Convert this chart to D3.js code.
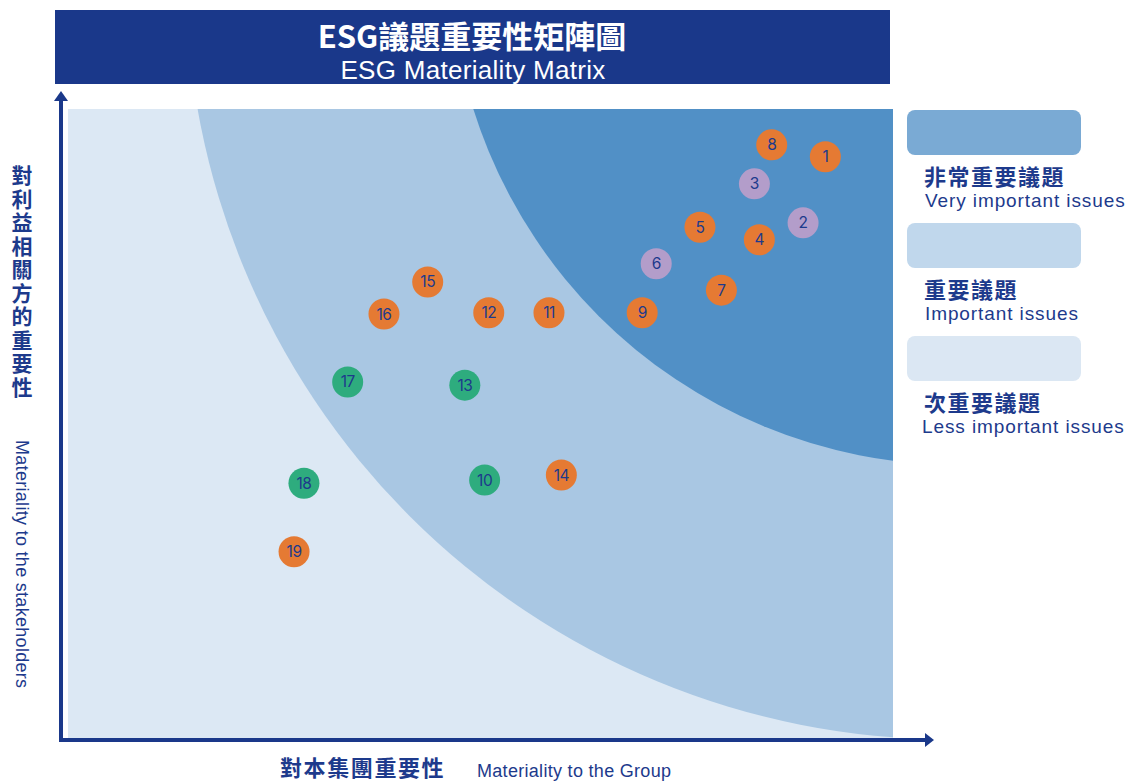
<!DOCTYPE html>
<html lang="zh-Hant">
<head>
<meta charset="UTF-8">
<title>ESG議題重要性矩陣圖</title>
<script src="https://d3js.org/d3.v7.min.js"></script>
<style>
  body { margin: 0; background: #fff; }
  svg { display: block; }
  text { font-family: "Liberation Sans", Arial, "Noto Sans CJK TC", sans-serif; fill: #1d3a8c; }
  .cjk { font-family: "Noto Sans CJK TC", sans-serif; font-weight: 700; }
</style>
</head>
<body>
<svg width="1132" height="782"></svg>
<script>
// === 議題資料 ===
const issueIds = [1, 2, 3, 4, 5, 6, 7, 8, 9, 10, 11, 12, 13, 14, 15, 16, 17, 18, 19];
const groupScore = [9.18, 8.91, 8.32, 8.38, 7.66, 7.13, 7.92, 8.53, 6.96, 5.05, 5.83, 5.10, 4.81, 5.98, 4.36, 3.83, 3.39, 2.86, 2.74];
const stakeScore = [9.24, 8.19, 8.81, 7.92, 8.12, 7.54, 7.12, 9.43, 6.76, 4.10, 6.76, 6.76, 5.61, 4.18, 7.25, 6.74, 5.66, 4.05, 2.96];
const issueType  = ["o", "p", "p", "o", "o", "p", "o", "o", "o", "g", "o", "o", "g", "o", "o", "o", "g", "g", "o"];

const typeColor = { o: "#e57a33", p: "#b39dca", g: "#2eac7e" };

// 區域 (圓心與半徑, 資料單位)
const zones = [
  { cx: 10.68, cy: 12.11, r: 9.25, color: "#a9c7e3" },
  { cx: 10.79, cy: 12.42, r: 6.16, color: "#5190c6" }
];

const legendZh = ["非常重要議題", "重要議題", "次重要議題"];
const legendEn = ["Very important issues", "Important issues", "Less important issues"];
const legendColor = ["#7aaad4", "#c0d7ec", "#dbe7f3"];

// === 繪圖 ===
const svg = d3.select("svg");
const navy = "#1a388a";

const x = d3.scaleLinear().domain([0, 10]).range([68, 893]);
const y = d3.scaleLinear().domain([0, 10]).range([738, 109]);

// 標題
svg.append("rect").attr("x", 55).attr("y", 10).attr("width", 835).attr("height", 74).attr("fill", navy);
svg.append("text").attr("class", "cjk").attr("x", 472).attr("y", 48).attr("text-anchor", "middle")
  .style("fill", "#fff").style("font-size", "31px").text("ESG議題重要性矩陣圖");
svg.append("text").attr("x", 473).attr("y", 79).attr("text-anchor", "middle")
  .style("fill", "#fff").style("font-size", "26px").style("letter-spacing", "0.3px")
  .text("ESG Materiality Matrix");

// 背景區域
svg.append("clipPath").attr("id", "plot").append("rect")
  .attr("x", x(0)).attr("y", y(10)).attr("width", x(10) - x(0)).attr("height", y(0) - y(10));

const plot = svg.append("g").attr("clip-path", "url(#plot)");
plot.append("rect").attr("x", x(0)).attr("y", y(10)).attr("width", x(10) - x(0)).attr("height", y(0) - y(10))
  .attr("fill", "#dce8f4");
plot.selectAll(".zone").data(zones).enter().append("circle")
  .attr("cx", d => x(d.cx)).attr("cy", d => y(d.cy)).attr("r", d => x(d.r) - x(0))
  .attr("fill", d => d.color);

// 座標軸
svg.append("line").attr("x1", 61).attr("y1", 741).attr("x2", 61).attr("y2", 100)
  .attr("stroke", navy).attr("stroke-width", 4);
svg.append("path").attr("d", "M54,101 L61,91 L68,101 Z").attr("fill", navy);
svg.append("line").attr("x1", 59).attr("y1", 740).attr("x2", 926).attr("y2", 740)
  .attr("stroke", navy).attr("stroke-width", 4);
svg.append("path").attr("d", "M925,733 L934,740 L925,747 Z").attr("fill", navy);

// 點
const pts = issueIds.map((id, i) => ({ id, gx: groupScore[i], sy: stakeScore[i], t: issueType[i] }));
const node = svg.selectAll(".pt").data(pts).enter().append("g")
  .attr("transform", d => `translate(${x(d.gx)},${y(d.sy)})`);
node.append("circle").attr("r", 15.5).attr("fill", d => typeColor[d.t]);
node.append("text").attr("text-anchor", "middle").attr("dy", 5.5)
  .style("font-size", "15.5px").style("font-family", "Inter, 'Liberation Sans', sans-serif")
  .style("letter-spacing", "-0.5px")
  .text(d => d.id);

// 圖例
const lg = svg.selectAll(".lg").data(legendZh).enter().append("g")
  .attr("transform", (d, i) => `translate(907,${110 + i * 113})`);
lg.append("rect").attr("width", 174).attr("height", 45).attr("rx", 8)
  .attr("fill", (d, i) => legendColor[i]);
lg.append("text").attr("class", "cjk").attr("x", 17).attr("y", 75)
  .style("font-size", "22px").style("letter-spacing", "1.5px").text(d => d);
lg.append("text").attr("x", (d, i) => i === 2 ? 15 : 18).attr("y", 97)
  .style("font-size", "19px").style("letter-spacing", "0.9px").text((d, i) => legendEn[i]);

// 軸標題
svg.append("text").attr("class", "cjk").attr("x", 22).attr("y", 165)
  .style("writing-mode", "vertical-rl").style("font-size", "21px").style("letter-spacing", "2.5px")
  .text("對利益相關方的重要性");
svg.append("text").attr("transform", "translate(16,440) rotate(90)")
  .style("font-size", "18px").style("letter-spacing", "0.3px").text("Materiality to the stakeholders");

svg.append("text").attr("class", "cjk").attr("x", 280).attr("y", 776)
  .style("font-size", "22px").style("letter-spacing", "1.6px").text("對本集團重要性");
svg.append("text").attr("x", 477).attr("y", 777)
  .style("font-size", "18px").style("letter-spacing", "0.3px").text("Materiality to the Group");
</script>
</body>
</html>
